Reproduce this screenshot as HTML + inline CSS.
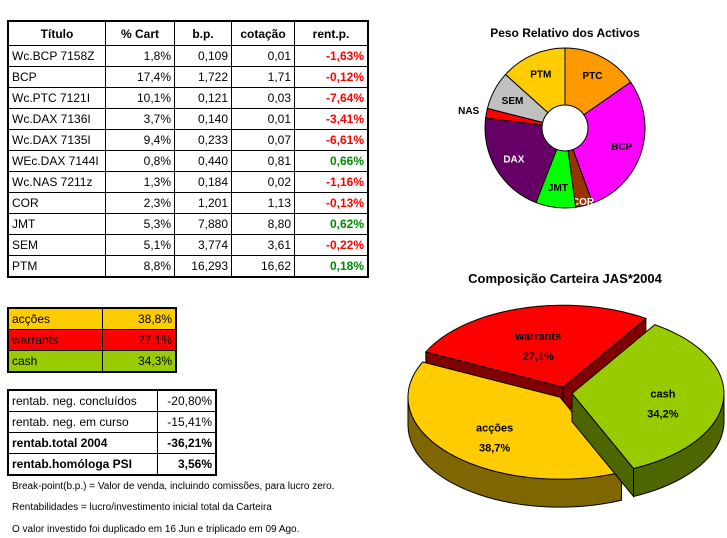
<!DOCTYPE html>
<html><head><meta charset="utf-8"><style>
body{margin:0;background:#fff;width:727px;height:538px;overflow:hidden;font-family:"Liberation Sans",sans-serif;}
table{border-collapse:collapse;position:absolute;font-size:12px;}
td{border:1px solid #000;padding:0 3px;height:20px;white-space:nowrap;}
.r{text-align:right}.neg{color:#f00;font-weight:bold;text-align:right}.pos{color:#080;font-weight:bold;text-align:right}
th{border:1px solid #000;font-size:12px;height:21px;font-weight:bold}
.note{position:absolute;left:12px;font-size:10px}
</style></head><body>
<table style="left:7px;top:20px;width:362px;border:2px solid #000">
<tr><th style="width:94px">Título</th><th style="width:66px">% Cart</th><th style="width:54px">b.p.</th><th style="width:60px">cotação</th><th>rent.p.</th></tr>
<tr><td>Wc.BCP 7158Z</td><td class="r">1,8%</td><td class="r">0,109</td><td class="r">0,01</td><td class="neg">-1,63%</td></tr>
<tr><td>BCP</td><td class="r">17,4%</td><td class="r">1,722</td><td class="r">1,71</td><td class="neg">-0,12%</td></tr>
<tr><td>Wc.PTC 7121I</td><td class="r">10,1%</td><td class="r">0,121</td><td class="r">0,03</td><td class="neg">-7,64%</td></tr>
<tr><td>Wc.DAX 7136I</td><td class="r">3,7%</td><td class="r">0,140</td><td class="r">0,01</td><td class="neg">-3,41%</td></tr>
<tr><td>Wc.DAX 7135I</td><td class="r">9,4%</td><td class="r">0,233</td><td class="r">0,07</td><td class="neg">-6,61%</td></tr>
<tr><td>WEc.DAX 7144I</td><td class="r">0,8%</td><td class="r">0,440</td><td class="r">0,81</td><td class="pos">0,66%</td></tr>
<tr><td>Wc.NAS 7211z</td><td class="r">1,3%</td><td class="r">0,184</td><td class="r">0,02</td><td class="neg">-1,16%</td></tr>
<tr><td>COR</td><td class="r">2,3%</td><td class="r">1,201</td><td class="r">1,13</td><td class="neg">-0,13%</td></tr>
<tr><td>JMT</td><td class="r">5,3%</td><td class="r">7,880</td><td class="r">8,80</td><td class="pos">0,62%</td></tr>
<tr><td>SEM</td><td class="r">5,1%</td><td class="r">3,774</td><td class="r">3,61</td><td class="neg">-0,22%</td></tr>
<tr><td>PTM</td><td class="r">8,8%</td><td class="r">16,293</td><td class="r">16,62</td><td class="pos">0,18%</td></tr>
</table>
<table style="left:7px;top:307px;width:170px;border:2px solid #000">
<tr><td style="background:#ffcc00">acções</td><td class="r" style="background:#ffcc00">38,8%</td></tr>
<tr><td style="background:#f00">warrants</td><td class="r" style="background:#f00">27,1%</td></tr>
<tr><td style="background:#99cc00">cash</td><td class="r" style="background:#99cc00">34,3%</td></tr>
</table>
<table style="left:7px;top:389px;width:210px;border:2px solid #000">
<tr><td>rentab. neg. concluídos</td><td class="r">-20,80%</td></tr>
<tr><td>rentab. neg. em curso</td><td class="r">-15,41%</td></tr>
<tr><td><b>rentab.total 2004</b></td><td class="r"><b>-36,21%</b></td></tr>
<tr><td><b>rentab.homóloga PSI</b></td><td class="r"><b>3,56%</b></td></tr>
</table>
<div class="note" style="top:481px">Break-point(b.p.) = Valor de venda, incluindo comissões, para lucro zero.</div>
<div class="note" style="top:502px">Rentabilidades = lucro/investimento inicial total da Carteira</div>
<div class="note" style="top:524px">O valor investido foi duplicado em 16 Jun e triplicado em 09 Ago.</div>
<svg id="s" width="727" height="538" style="position:absolute;left:0;top:0" font-family="Liberation Sans, sans-serif" font-weight="bold"></svg>
<script>
const donutLabels=["PTC","BCP","COR","JMT","DAX","NAS","SEM","PTM"];
const donutValues=[10.1,19.2,2.3,5.3,13.9,1.3,5.1,8.8];
const donutColors=["#ff9900","#ff00ff","#993300","#00ff00","#660066","#ff0000","#c0c0c0","#ffcc00"];
const pieLabels=["cash","acções","warrants"];
const pieValues=[34.2,38.7,27.1];
const pieColors=["#99cc00","#ffcc00","#ff0000"];
const pieDark=["#4d6600","#806600","#800000"];
const s=document.getElementById('s');
const NS="http://www.w3.org/2000/svg";
function el(t,a,p){const e=document.createElementNS(NS,t);for(const k in a)e.setAttribute(k,a[k]);(p||s).appendChild(e);return e;}
function txt(x,y,t,sz,fill,name,p){const e=el('text',{x:x,y:y,'font-size':sz,fill:fill,'text-anchor':'middle'},p);e.textContent=t;

return e;}
txt(565,37,"Peso Relativo dos Activos",12,"#000","donut-title");
txt(565,283,"Composição Carteira JAS*2004",13,"#000","pie-title");
// donut
const cx=565,cy=128,R=80,r=23;
const tot=donutValues.reduce((a,b)=>a+b,0);
let a0=-Math.PI/2;
donutValues.forEach((v,i)=>{
 const a1=a0+v/tot*2*Math.PI;const lg=(a1-a0)>Math.PI?1:0;
 const P=(rad,a)=>[cx+rad*Math.cos(a),cy+rad*Math.sin(a)];
 const p1=P(R,a0),p2=P(R,a1),p3=P(r,a1),p4=P(r,a0);
 const e=el('path',{d:`M${p1}A${R},${R} 0 ${lg} 1 ${p2}L${p3}A${r},${r} 0 ${lg} 0 ${p4}Z`,fill:donutColors[i],stroke:"#000","stroke-width":1});
 
 
 const m=(a0+a1)/2;let lr=(R+r)/2+8;let col=(donutLabels[i]=="DAX"||donutLabels[i]=="COR")?"#fff":"#000";
 if(donutLabels[i]=="NAS"){lr=R+18;}
 if(donutLabels[i]=="COR"){lr=R-5;}
 const lp=P(lr,m);
 txt(lp[0],lp[1]+4,donutLabels[i],10,col,'donut-label-'+donutLabels[i].toLowerCase());
 a0=a1;
});
// 3D pie
const pcx=565,pcy=393,rx=152,ry=82,dep=28;
const ptot=pieValues.reduce((a,b)=>a+b,0);
let b0=-57*Math.PI/180;
const slices=[];
pieValues.forEach((v,i)=>{const b1=b0+v/ptot*2*Math.PI;slices.push([b0,b1,i]);b0=b1;});
function pt(ox,oy,a,dy){return [ox+rx*Math.cos(a),oy+ry*Math.sin(a)+(dy||0)];}
// draw order: warrants (back), acções, cash
const order=[2,1,0];
const faces={0:[1],1:[],2:[0,1]};
order.forEach(idx=>{
 const [s0,s1,i]=slices[idx];
 const m=(s0+s1)/2;const ox=pcx+7*Math.cos(m),oy=pcy+6*Math.sin(m);
 const g=el('g',{});
 
 
 const segs=[];
 for(let k=-1;k<=1;k++){const lo=Math.max(s0,k*2*Math.PI),hi=Math.min(s1,k*2*Math.PI+Math.PI);if(hi>lo)segs.push([lo,hi]);}
 segs.forEach(([lo,hi])=>{let d=`M${pt(ox,oy,lo)}`;const N=30;
  for(let j=0;j<=N;j++)d+=`L${pt(ox,oy,lo+(hi-lo)*j/N)}`;
  for(let j=N;j>=0;j--)d+=`L${pt(ox,oy,lo+(hi-lo)*j/N,dep)}`;
  el('path',{d:d+'Z',fill:pieDark[i],stroke:"#000","stroke-width":1},g);});
 faces[i].forEach(f=>{const a=f?s1:s0;const p=pt(ox,oy,a);el('path',{d:`M${ox},${oy}L${p}L${p[0]},${p[1]+dep}L${ox},${oy+dep}Z`,fill:pieDark[i],stroke:"#000","stroke-width":1},g);});
 let d=`M${ox},${oy}`;const N=60;for(let j=0;j<=N;j++)d+=`L${pt(ox,oy,s0+(s1-s0)*j/N)}`;
 el('path',{d:d+'Z',fill:pieColors[i],stroke:"#000","stroke-width":1},g);
 const lp=[ox+rx*0.6*Math.cos(m),oy+ry*0.6*Math.sin(m)];
 txt(lp[0],lp[1],pieLabels[i],11,"#000",'pie-label-'+pieLabels[i],g);
 txt(lp[0],lp[1]+20,pieValues[i].toFixed(1).replace('.',',')+'%',11,"#000",'pie-value-'+pieLabels[i],g);
});
</script>
</body></html>
